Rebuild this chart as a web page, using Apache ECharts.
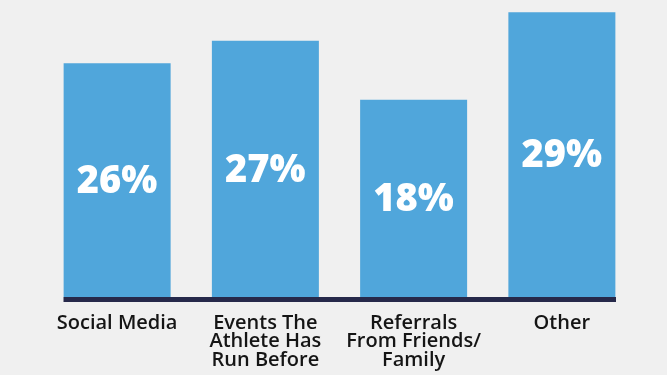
<!DOCTYPE html>
<html>
<head>
<meta charset="utf-8">
<style>
  html, body { margin: 0; padding: 0; background: #f0f0f0; }
  #chart { width: 667px; height: 375px; }
</style>
<script src="https://cdn.jsdelivr.net/npm/echarts@6/dist/echarts.min.js"></script>
</head>
<body>
<div id="chart"></div>
<script>
// Categories (axis labels)
const categories = [
  'Social Media',
  'Events The\nAthlete Has\nRun Before',
  'Referrals\nFrom Friends/\nFamily',
  'Other'
];
// Bar heights (scale: tallest bar = 29)
const barValues = [23.8, 26.1, 20.1, 29.0];
// Printed value labels inside the bars
const valueLabels = ['26%', '27%', '18%', '29%'];

const chart = echarts.init(document.getElementById('chart'), null, { renderer: 'canvas' });

chart.setOption({
  backgroundColor: '#f0f0f0',
  animation: false,
  grid: [
    { left: 43, right: 31, top: 2.5, bottom: 78 },
    { left: 63.5, right: 51, top: 2.5, bottom: 75.5 }
  ],
  xAxis: [
    {
      type: 'category',
      gridIndex: 0,
      data: categories,
      axisLine: { show: false },
      axisTick: { show: false },
      axisLabel: {
        interval: 0,
        margin: 17,
        color: '#151515',
        fontFamily: 'Open Sans',
        fontSize: 20,
        fontWeight: 600,
        lineHeight: 18.4,
        align: 'center'
      }
    },
    {
      type: 'category',
      gridIndex: 1,
      data: [''],
      axisLine: { show: true, lineStyle: { color: '#26294a', width: 5, cap: 'butt' } },
      axisTick: { show: false },
      axisLabel: { show: false },
      splitLine: { show: false }
    }
  ],
  yAxis: [
    { type: 'value', gridIndex: 0, min: 0, max: 30, show: false },
    { type: 'value', gridIndex: 1, min: 0, max: 30, show: false }
  ],
  series: [
    {
      type: 'bar',
      xAxisIndex: 0,
      yAxisIndex: 0,
      data: barValues,
      barWidth: 107,
      itemStyle: { color: '#50a6db' },
      label: {
        show: true,
        position: 'inside',
        offset: [0, 2],
        formatter: (p) => valueLabels[p.dataIndex],
        color: '#ffffff',
        fontFamily: 'Open Sans',
        fontWeight: 800,
        fontSize: 38
      }
    }
  ]
});
</script>
</body>
</html>
